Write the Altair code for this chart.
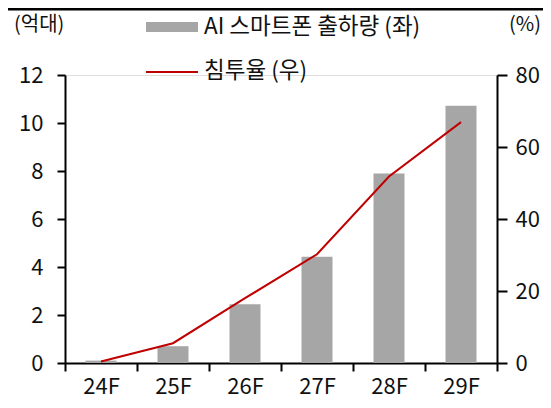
import altair as alt
import pandas as pd

# ---- data ----
years = ["24F", "25F", "26F", "27F", "28F", "29F"]
shipments = [0.1, 0.7, 2.45, 4.43, 7.9, 10.72]       # 억대 (left axis)
penetration = [0.4, 5.5, 18.0, 30.2, 51.8, 66.9]     # % (right axis)
legend_labels = ["AI 스마트폰 출하량 (좌)", "침투율 (우)"]
axis_titles = ["(억대)", "(%)"]

FONT = "Noto Sans CJK KR"
BAR_COLOR = "#a6a6a6"
LINE_COLOR = "#c00000"
W, H = 432, 288

df = pd.DataFrame({"year": years, "ship": shipments, "pen": penetration})

x_enc = alt.X(
    "year:N",
    sort=years,
    scale=alt.Scale(paddingInner=0, paddingOuter=0),
    axis=alt.Axis(
        title=None, tickBand="extent", tickSize=8, tickWidth=2, tickColor="black",
        domainColor="black", domainWidth=2, labelPadding=5, labelFontSize=22,
        labelFont=FONT, labelColor="#111", labelAngle=0,
    ),
)

bars = alt.Chart(df).mark_bar(color=BAR_COLOR, size=31).encode(
    x=x_enc,
    y=alt.Y(
        "ship:Q",
        scale=alt.Scale(domain=[0, 12], nice=False),
        axis=alt.Axis(
            title=None, values=[0, 2, 4, 6, 8, 10, 12], grid=False, orient="left",
            tickSize=8, tickWidth=2, tickColor="black", domainColor="black",
            domainWidth=2, labelPadding=14, labelFontSize=22, labelFont=FONT,
            labelColor="#111",
        ),
    ),
)

line = alt.Chart(df).mark_line(color=LINE_COLOR, strokeWidth=2).encode(
    x=alt.X("year:N", sort=years),
    y=alt.Y(
        "pen:Q",
        scale=alt.Scale(domain=[0, 80], nice=False),
        axis=alt.Axis(
            title=None, values=[0, 20, 40, 60, 80], grid=False, orient="right",
            tickSize=10, tickWidth=2, tickColor="black", domainColor="black",
            domainWidth=2, labelPadding=8, labelFontSize=22, labelFont=FONT,
            labelColor="#111",
        ),
    ),
)

# ---- decorations: legend, axis unit titles, top rule ----
deco_df = pd.DataFrame({"d": [0]})

top_rule = alt.Chart(deco_df).mark_rule(color="black", strokeWidth=3).encode(
    x=alt.value(-57), x2=alt.value(W + 46), y=alt.value(-66)
)

leg_rect = alt.Chart(deco_df).mark_rect(color=BAR_COLOR).encode(
    x=alt.value(81), x2=alt.value(133), y=alt.value(-53), y2=alt.value(-43)
)
leg_line = alt.Chart(deco_df).mark_rule(color=LINE_COLOR, strokeWidth=2).encode(
    x=alt.value(81), x2=alt.value(133), y=alt.value(-3)
)
leg_text1 = alt.Chart(pd.DataFrame({"t": [legend_labels[0]]})).mark_text(
    align="left", baseline="middle", font=FONT, fontSize=22.5, color="#111"
).encode(text="t:N", x=alt.value(139), y=alt.value(-48))
leg_text2 = alt.Chart(pd.DataFrame({"t": [legend_labels[1]]})).mark_text(
    align="left", baseline="middle", font=FONT, fontSize=22.5, color="#111"
).encode(text="t:N", x=alt.value(139), y=alt.value(-4))

title_left = alt.Chart(pd.DataFrame({"t": [axis_titles[0]]})).mark_text(
    align="left", baseline="middle", font=FONT, fontSize=20, color="#111"
).encode(text="t:N", x=alt.value(-51), y=alt.value(-50))
title_right = alt.Chart(pd.DataFrame({"t": [axis_titles[1]]})).mark_text(
    align="left", baseline="middle", font=FONT, fontSize=20, color="#111"
).encode(text="t:N", x=alt.value(444), y=alt.value(-50))

main = alt.layer(bars, line).resolve_scale(y="independent")

chart = alt.layer(
    main, top_rule, leg_rect, leg_line, leg_text1, leg_text2, title_left, title_right
).properties(
    width=W,
    height=H,
    autosize=alt.AutoSizeParams(type="none"),
    padding={"left": 57, "top": 67, "right": 46, "bottom": 37},
).configure_view(stroke=None).configure(background="white")

chart.save("out.html", embed_options={"renderer": "svg", "actions": False})
